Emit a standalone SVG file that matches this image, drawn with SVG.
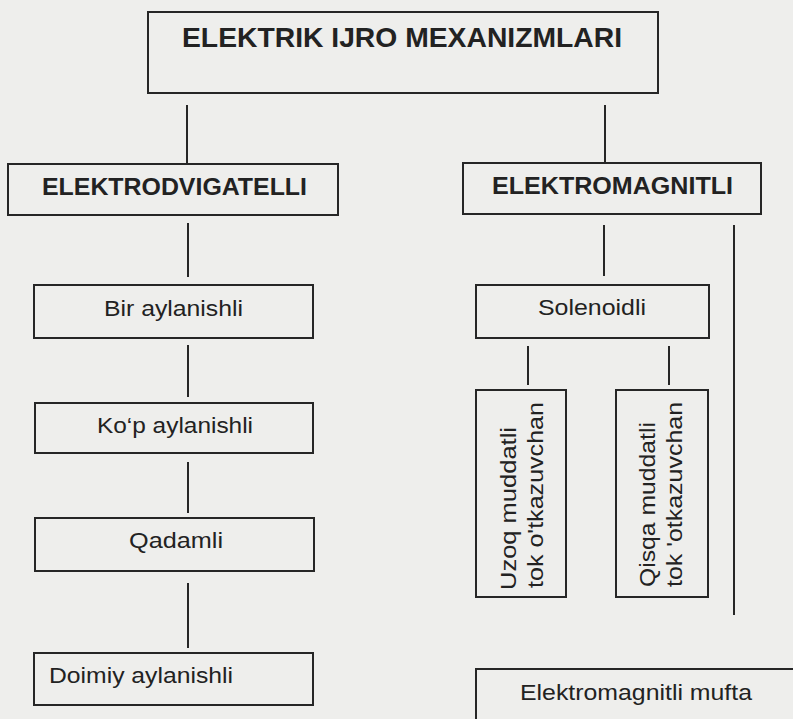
<svg xmlns="http://www.w3.org/2000/svg" width="793" height="719" viewBox="0 0 793 719">
<style>
.box{fill:none;stroke:#262626;stroke-width:2}
.ln{stroke:#262626;stroke-width:2;fill:none}
.h{font-family:"Liberation Sans",Arial,sans-serif;font-weight:bold;fill:#222}
.t{font-family:"Liberation Sans",Arial,sans-serif;fill:#222;font-size:22px}
</style>
<rect width="793" height="719" fill="#eeeeec"/>
<g id="connectors">
<line class="ln" x1="187" y1="105" x2="187" y2="163"/>
<line class="ln" x1="605" y1="105" x2="605" y2="163"/>
<line class="ln" x1="188" y1="223" x2="188" y2="277"/>
<line class="ln" x1="188" y1="345" x2="188" y2="397"/>
<line class="ln" x1="188" y1="462" x2="188" y2="513"/>
<line class="ln" x1="188" y1="583" x2="188" y2="648"/>
<line class="ln" x1="604" y1="225" x2="604" y2="276"/>
<line class="ln" x1="528" y1="346" x2="528" y2="385"/>
<line class="ln" x1="669" y1="346" x2="669" y2="385"/>
<line class="ln" x1="734" y1="225" x2="734" y2="615"/>
</g>
<g id="root">
<rect class="box" x="148" y="12" width="510" height="81"/>
<text class="h" x="182" y="47" font-size="28" textLength="440" lengthAdjust="spacingAndGlyphs">ELEKTRIK IJRO MEXANIZMLARI</text>
</g>
<g id="elektrodvigatelli">
<rect class="box" x="8" y="164" width="330" height="51"/>
<text class="h" x="42" y="195" font-size="24" textLength="265" lengthAdjust="spacingAndGlyphs">ELEKTRODVIGATELLI</text>
</g>
<g id="elektromagnitli">
<rect class="box" x="463" y="163" width="298" height="51"/>
<text class="h" x="492" y="194" font-size="24" textLength="241" lengthAdjust="spacingAndGlyphs">ELEKTROMAGNITLI</text>
</g>
<g id="bir">
<rect class="box" x="34" y="285" width="279" height="53"/>
<text class="t" x="104" y="316" textLength="139" lengthAdjust="spacingAndGlyphs">Bir aylanishli</text>
</g>
<g id="kop">
<rect class="box" x="35" y="403" width="278" height="50"/>
<text class="t" x="97" y="433" textLength="156" lengthAdjust="spacingAndGlyphs">Ko‘p aylanishli</text>
</g>
<g id="qadamli">
<rect class="box" x="35" y="518" width="279" height="53"/>
<text class="t" x="129" y="548" textLength="94" lengthAdjust="spacingAndGlyphs">Qadamli</text>
</g>
<g id="doimiy">
<rect class="box" x="34" y="653" width="279" height="52"/>
<text class="t" x="49" y="683" textLength="184" lengthAdjust="spacingAndGlyphs">Doimiy aylanishli</text>
</g>
<g id="solenoidli">
<rect class="box" x="476" y="285" width="233" height="53"/>
<text class="t" x="538" y="315" textLength="108" lengthAdjust="spacingAndGlyphs">Solenoidli</text>
</g>
<g id="uzoq">
<rect class="box" x="476" y="390" width="90" height="207"/>
<text class="t" transform="translate(516 590) rotate(-90)" font-size="20" textLength="163" lengthAdjust="spacingAndGlyphs">Uzoq muddatli</text>
<text class="t" transform="translate(543 588) rotate(-90)" font-size="20" textLength="186" lengthAdjust="spacingAndGlyphs">tok o'tkazuvchan</text>
</g>
<g id="qisqa">
<rect class="box" x="616" y="390" width="92" height="207"/>
<text class="t" transform="translate(655 587) rotate(-90)" font-size="20" textLength="165" lengthAdjust="spacingAndGlyphs">Qisqa muddatli</text>
<text class="t" transform="translate(682 587) rotate(-90)" font-size="20" textLength="185" lengthAdjust="spacingAndGlyphs">tok 'otkazuvchan</text>
</g>
<g id="mufta">
<rect class="box" x="476" y="669" width="340" height="70"/>
<text class="t" x="520" y="700" textLength="232" lengthAdjust="spacingAndGlyphs">Elektromagnitli mufta</text>
</g>
</svg>
